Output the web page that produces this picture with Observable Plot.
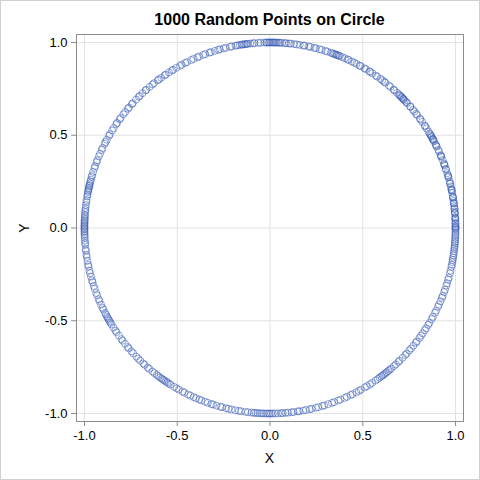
<!DOCTYPE html>
<html><head><meta charset="utf-8">
<script src="https://cdn.jsdelivr.net/npm/d3@7"></script>
<script src="https://cdn.jsdelivr.net/npm/@observablehq/plot@0.6"></script>
<style>
html,body{margin:0;padding:0;background:#fff;}
#wrap{position:relative;width:480px;height:480px;font-family:"Liberation Sans",Arial,sans-serif;}
#border{position:absolute;left:0;top:0;width:480px;height:480px;box-sizing:border-box;border:1px solid #cfcfcf;pointer-events:none;}
.lbl{position:absolute;font-size:14px;color:#000;}
#title{position:absolute;left:76px;width:387px;top:11px;text-align:center;font-weight:bold;font-size:16px;}
</style></head>
<body><div id="wrap"><div id="chart"></div>
<div id="title"></div>
<div class="lbl" id="xl" style="left:76px;width:387px;top:450px;text-align:center;"></div>
<div class="lbl" id="yl" style="left:19px;top:220px;transform:rotate(-90deg);"></div>
<div id="border"></div></div>
<script>
const title = "1000 Random Points on Circle";
const xLabel = "X", yLabel = "Y";
const ticks = [-1, -0.5, 0, 0.5, 1];
// angles (degrees) of points read around the circle, by quadrant
const q1 = [0.1,0.4,0.6,1.3,1.5,2.2,2.8,3.0,3.4,4.5,4.7,5.1,5.9,6.0,6.8,7.6,7.7,8.4,9.3,9.5,9.8,10.9,11.6,11.8,12.1,12.9,13.8,14.0,14.6,15.9,16.1,16.5,17.2,18.4,18.6,19.7,20.0,20.3,21.5,22.6,22.8,23.1,24.3,24.9,26.0,26.4,26.7,27.8,28.3,28.5,28.8,29.4,29.7,30.1,30.6,31.3,32.4,33.2,33.5,34.9,35.8,36.1,37.5,38.0,38.9,39.6,40.8,41.0,42.3,42.7,43.4,43.9,44.1,44.5,44.8,45.3,45.6,46.0,46.8,47.9,48.2,49.5,50.1,51.6,52.0,52.8,53.5,54.7,55.2,56.5,57.3,57.6,58.9,59.4,60.7,61.1,62.2,63.0,63.8,64.9,65.3,66.2,67.1,67.9,68.3,68.7,69.0,69.4,69.8,70.3,70.9,72.0,72.6,73.8,74.5,75.7,76.2,77.4,78.0,79.3,79.6,80.8,81.7,82.5,83.6,84.1,85.0,85.4,86.3,86.9,87.3,87.8,88.2,88.6,88.9,89.3,89.7];
const q2 = [90.1,90.4,90.9,91.2,91.8,92.9,93.6,94.8,95.3,96.1,96.9,97.2,97.6,98.0,98.5,98.8,99.4,100.1,100.7,101.9,102.4,103.8,104.5,105.7,106.2,107.3,108.6,109.0,110.4,111.1,112.5,113.0,114.3,115.1,116.6,117.2,118.4,119.0,120.3,121.5,121.9,123.0,124.2,124.6,125.9,126.8,127.2,128.7,129.3,130.5,131.8,132.1,133.4,134.6,135.0,136.2,137.7,138.1,139.5,140.0,141.3,142.2,143.6,144.1,145.5,146.0,147.4,148.3,149.7,150.2,151.6,152.4,153.0,154.5,155.1,156.4,157.3,158.6,159.2,160.5,161.1,162.4,163.5,164.0,164.9,165.5,166.1,166.6,167.0,167.5,167.9,168.4,168.8,169.6,170.2,171.3,172.0,172.9,173.8,174.5,175.1,175.9,176.3,176.9,177.4,177.8,178.3,178.7,179.2,179.6];
const q3 = [180.0,180.4,180.9,181.3,181.9,182.4,183.0,183.9,184.6,185.2,186.5,187.1,188.3,189.0,190.2,191.4,192.0,193.3,194.1,195.2,196.4,197.0,198.2,199.1,200.5,201.3,202.6,203.2,204.4,205.5,206.1,207.2,207.8,208.5,209.0,209.6,210.1,210.7,211.3,212.5,213.6,214.2,215.5,216.8,217.4,218.6,219.9,220.4,221.7,222.5,223.9,224.8,225.6,226.9,227.5,228.8,229.4,230.7,231.5,232.4,233.0,233.7,234.3,234.8,235.3,235.9,236.4,237.0,237.6,238.9,239.8,240.6,241.9,242.5,243.8,244.6,245.7,246.5,247.6,248.3,249.5,250.4,251.6,252.1,253.2,254.5,255.0,256.3,257.1,258.0,259.2,260.3,261.0,262.4,263.2,264.3,265.0,265.6,266.2,266.9,267.5,268.1,268.8,269.3,269.8];
const q4 = [270.3,270.9,271.6,272.5,273.4,273.9,274.8,275.6,276.7,277.3,278.6,279.1,280.3,281.2,282.4,283.0,284.3,285.1,286.4,287.0,288.3,289.5,290.2,291.6,292.3,293.7,294.5,295.8,296.4,297.7,298.6,299.3,300.8,301.5,302.6,303.4,304.7,305.5,306.2,306.9,307.4,307.9,308.5,309.0,309.6,310.2,310.8,311.9,312.7,313.8,314.3,315.6,316.8,317.4,318.7,319.5,320.6,321.8,322.3,323.7,324.5,325.4,326.6,327.3,328.5,329.2,330.6,331.4,332.8,333.5,334.9,335.6,336.7,337.9,338.5,339.8,340.6,341.9,342.7,343.8,344.5,345.9,346.7,347.9,348.6,349.4,350.1,350.8,351.5,352.2,352.9,353.6,354.1,354.7,355.3,355.8,356.4,357.0,357.6,358.1,358.7,359.3,359.8];

const angles = [...q1, ...q2, ...q3, ...q4];
const pts = angles.map(a => ({x: Math.cos(a * Math.PI / 180), y: Math.sin(a * Math.PI / 180)}));

document.getElementById("title").textContent = title;
document.getElementById("xl").textContent = xLabel;
document.getElementById("yl").textContent = yLabel;

const fmt = d => d.toFixed(1);
const plot = Plot.plot({
  width: 480, height: 480,
  marginLeft: 76, marginRight: 17, marginTop: 34, marginBottom: 59,
  style: {fontFamily: '"Liberation Sans", Arial, sans-serif', fontSize: "13px", color: "#000", background: "#fff"},
  x: {domain: [-1.043, 1.043]},
  y: {domain: [-1.043, 1.043]},
  marks: [
    Plot.gridX(ticks, {stroke: "#e3e3e3", strokeOpacity: 1}),
    Plot.gridY(ticks, {stroke: "#e3e3e3", strokeOpacity: 1}),
    Plot.dot(pts, {x: "x", y: "y", r: 3.5, stroke: "#2a50b0", strokeOpacity: 0.5, strokeWidth: 1, fill: "none"}),
    Plot.frame({stroke: "#8c8c8c"}),
    Plot.axisX({ticks, tickFormat: fmt, tickSize: 5, tickPadding: 4, label: null, stroke: "#8c8c8c", color: "#000"}),
    Plot.axisY({ticks, tickFormat: fmt, tickSize: 5, tickPadding: 4, label: null, stroke: "#8c8c8c", color: "#000"})
  ]
});
document.getElementById("chart").appendChild(plot);
</script></body></html>
